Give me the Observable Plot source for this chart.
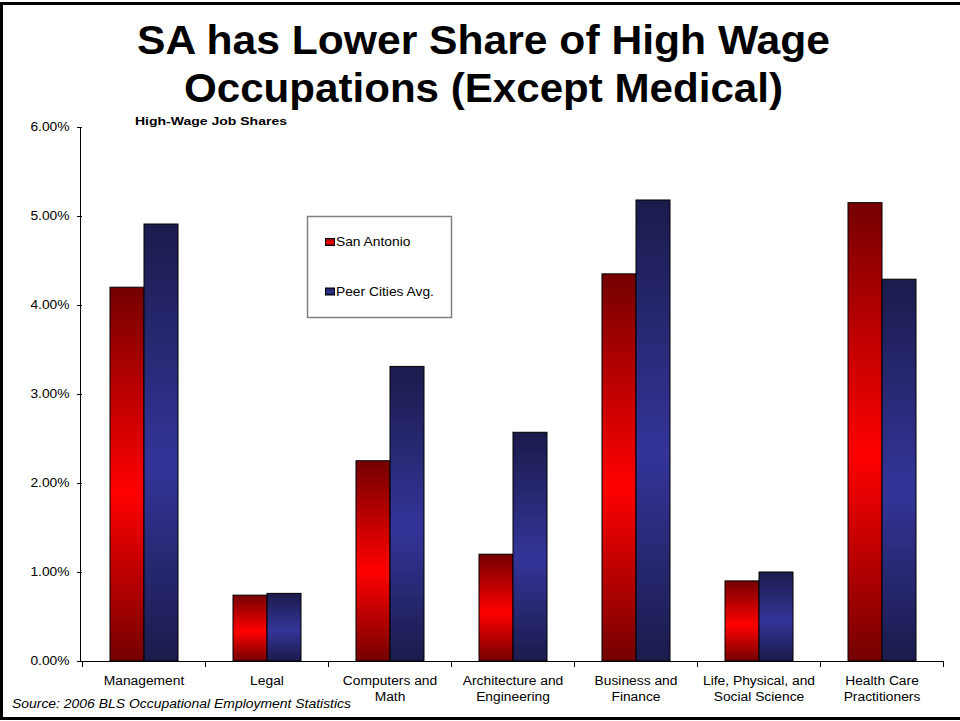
<!DOCTYPE html>
<html>
<head>
<meta charset="utf-8">
<script src="https://cdn.jsdelivr.net/npm/d3@7"></script>
<script src="https://cdn.jsdelivr.net/npm/@observablehq/plot@0.6"></script>
<style>
  body { margin: 0; background: #fff; }
  #slide { position: relative; width: 960px; height: 721px; overflow: hidden; background: #fff; font-family: "Liberation Sans", Arial, sans-serif; }
  #slide svg { position: absolute; left: 0; top: 0; }
  #border { position: absolute; left: 0; top: 2px; width: 1000px; height: 718px; border: 3px solid #000; box-sizing: border-box; pointer-events: none; }
</style>
</head>
<body>
<div id="slide"><div id="border"></div></div>
<script>
// ---------- data ----------
const titleLines = ["SA has Lower Share of High Wage", "Occupations (Except Medical)"];
const subtitle = "High-Wage Job Shares";
const source = "Source: 2006 BLS Occupational Employment Statistics";
const categories = [
  "Management",
  "Legal",
  "Computers and\nMath",
  "Architecture and\nEngineering",
  "Business and\nFinance",
  "Life, Physical, and\nSocial Science",
  "Health Care\nPractitioners"
];
const series = ["San Antonio", "Peer Cities Avg."];
const sanAntonio = [4.20, 0.74, 2.25, 1.20, 4.35, 0.90, 5.15];   // percent
const peerCities = [4.91, 0.76, 3.31, 2.57, 5.18, 1.00, 4.29];   // percent
const yTicks = [0, 1, 2, 3, 4, 5, 6];                            // percent

const data = categories.flatMap((c, i) => [
  {category: c, series: series[0], value: sanAntonio[i] / 100},
  {category: c, series: series[1], value: peerCities[i] / 100}
]);

const STRETCH = 1.15;
const FONT = "Liberation Sans, Arial, sans-serif";

function addGradients(svg, prefix) {
  const defs = svg.insert("defs", ":first-child");
  const mk = (id, dark, bright) => {
    const g = defs.append("linearGradient").attr("id", prefix + id)
      .attr("x1", 0).attr("y1", 0).attr("x2", 0).attr("y2", 1);
    g.append("stop").attr("offset", "0%").attr("stop-color", dark);
    g.append("stop").attr("offset", "55%").attr("stop-color", bright);
    g.append("stop").attr("offset", "100%").attr("stop-color", dark);
  };
  mk("Red", "#740000", "#ff0000");
  mk("Blue", "#1b1b4c", "#343499");
}

const chart = Plot.plot({
  width: 960,
  height: 721,
  marginLeft: 81,
  marginRight: 17,
  marginTop: 127,
  marginBottom: 60,
  style: {fontFamily: FONT, fontSize: "12px", color: "#000", background: "transparent", overflow: "visible"},
  fx: {domain: categories, padding: 0, label: null},
  x: {domain: series, paddingInner: 0, paddingOuter: 0.76, axis: null},
  y: {domain: [0, 0.06], ticks: yTicks.map(d => d / 100), tickFormat: d3.format(".2%"), label: null, tickSize: 5, tickPadding: 8},
  marks: [
    Plot.barY(data.filter(d => d.series === series[0]), {fx: "category", x: "series", y: "value", fill: "url(#gRed)", stroke: "#000", strokeWidth: 1}),
    Plot.barY(data.filter(d => d.series === series[1]), {fx: "category", x: "series", y: "value", fill: "url(#gBlue)", stroke: "#000", strokeWidth: 1}),
    Plot.axisFx({anchor: "bottom", tickSize: 0, tickPadding: 12, lineHeight: 1.35, label: null, fontSize: 12})
  ]
});

const slide = document.getElementById("slide");
slide.insertBefore(chart, document.getElementById("border"));
const cs = d3.select(chart);
addGradients(cs, "g");

// axis lines and category boundary ticks, from the scales
const fx = chart.scale("fx");
const y = chart.scale("y");
const x0 = fx.range[0], x1 = fx.range[1];
const y0 = y.apply(0), yTop = y.apply(0.06);
const axes = cs.append("g").attr("stroke", "#000").attr("stroke-width", 1).attr("shape-rendering", "crispEdges");
axes.append("line").attr("x1", x0 - 0.5).attr("x2", x0 - 0.5).attr("y1", yTop).attr("y2", y0 + 0.5);
axes.append("line").attr("x1", x0 - 0.5).attr("x2", x1).attr("y1", y0 + 0.5).attr("y2", y0 + 0.5);
[...categories.map(c => fx.apply(c)), x1].forEach(px => {
  axes.append("line").attr("x1", px).attr("x2", px).attr("y1", y0).attr("y2", y0 + 6);
});

// ---------- overlay: title, subtitle, legend, source ----------
const ov = d3.select(slide).insert("svg", "#border")
  .attr("width", 960).attr("height", 721).style("pointer-events", "none")
  .attr("font-family", FONT);
addGradients(ov, "l");

const titleWidths = [693, 599];
ov.selectAll("text.title").data(titleLines).join("text")
  .attr("class", "title fixed")
  .attr("x", 483.5).attr("y", (d, i) => 54 + i * 48)
  .attr("text-anchor", "middle").attr("font-weight", "bold").attr("font-size", 40)
  .attr("textLength", (d, i) => titleWidths[i]).attr("lengthAdjust", "spacingAndGlyphs")
  .text(d => d);

ov.append("text").attr("class", "fixed").attr("x", 135).attr("y", 125)
  .attr("font-weight", "bold").attr("font-size", 11.5)
  .attr("textLength", 152).attr("lengthAdjust", "spacingAndGlyphs").text(subtitle);

const lg = ov.append("g");
lg.append("rect").attr("x", 307.5).attr("y", 216.5).attr("width", 144).attr("height", 101)
  .attr("fill", "#fff").attr("stroke", "#808080").attr("stroke-width", 1.5);
const legendY = [238.5, 288];
series.forEach((s, i) => {
  lg.append("rect").attr("x", 325.5).attr("y", legendY[i]).attr("width", 9).attr("height", 7)
    .attr("fill", i === 0 ? "url(#lRed)" : "url(#lBlue)").attr("stroke", "#000").attr("stroke-width", 1);
  lg.append("text").attr("x", 336).attr("y", legendY[i] + 7.5).attr("font-size", 12).text(s);
});

ov.append("text").attr("class", "fixed").attr("x", 12).attr("y", 708)
  .attr("font-style", "italic").attr("font-size", 12)
  .attr("textLength", 339).attr("lengthAdjust", "spacingAndGlyphs").text(source);

// horizontal stretch of all text to match the reference's wide rendering
function stretch(root) {
  root.querySelectorAll("text:not(.fixed)").forEach(t => {
    const spans = t.querySelectorAll("tspan");
    const els = spans.length ? [...spans] : [t];
    els.forEach(e => {
      const len = e.getComputedTextLength();
      if (len > 0) {
        e.setAttribute("textLength", (len * STRETCH).toFixed(1));
        e.setAttribute("lengthAdjust", "spacingAndGlyphs");
      }
    });
  });
}
stretch(chart);
stretch(ov.node());
</script>
</body>
</html>
